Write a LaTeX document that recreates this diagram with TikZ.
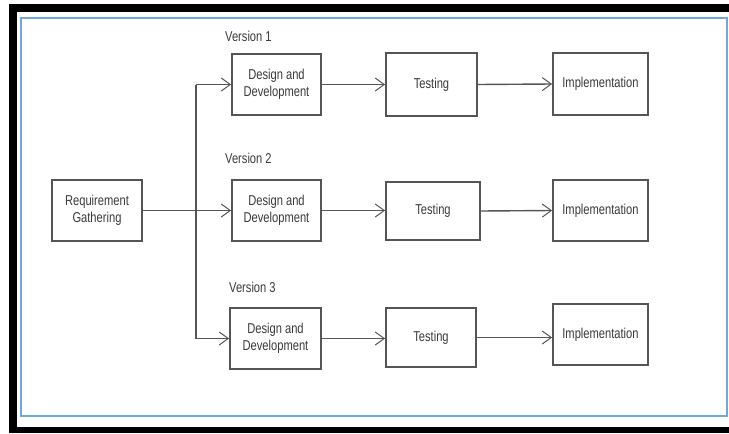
\documentclass[tikz,border=0pt]{standalone}
\usepackage{fontspec}
\setmainfont{Liberation Sans}[FakeStretch=0.78]
\usetikzlibrary{arrows.meta}
\definecolor{boxline}{HTML}{555555}
\definecolor{txt}{HTML}{3A3A3A}
\definecolor{frameblue}{HTML}{6FA8DC}
\tikzset{
  box/.style={draw=boxline, line width=1.8pt, fill=white, text=txt, align=center,
    font=\fontsize{14.3}{17.5}\selectfont, inner sep=0pt},
  conn/.style={draw=boxline, line width=1.4pt},
  arr/.style={conn, -{Straight Barb[length=9pt,width=13pt,line width=1pt]}},
  ver/.style={text=txt, font=\fontsize{14.3}{17}\selectfont, anchor=west, inner sep=0pt}
}
\begin{document}
\begin{tikzpicture}[x=1pt,y=-1pt]
\useasboundingbox (0,0) rectangle (729,434);
% outer black frame
\fill[black] (9,4) rectangle (17,433);
\fill[black] (9,4) rectangle (729,12);
\fill[black] (9,427) rectangle (729,433);
% inner blue frame
\draw[frameblue, line width=2pt] (21,18) rectangle (727,416);

% nodes
\node[box, minimum width=90pt, minimum height=61pt] (req) at (97,210.5) {Requirement\\Gathering};

\node[box, minimum width=89pt, minimum height=61pt] (d1) at (276.5,84.5) {Design and\\Development};
\node[box, minimum width=91pt, minimum height=63pt] (t1) at (431.5,84.5) {Testing};
\node[box, minimum width=95pt, minimum height=62pt] (i1) at (600.5,84) {Implementation};

\node[box, minimum width=89pt, minimum height=61pt] (d2) at (276.5,210.5) {Design and\\Development};
\node[box, minimum width=94pt, minimum height=58pt] (t2) at (433,211) {Testing};
\node[box, minimum width=95pt, minimum height=61pt] (i2) at (600.5,210.5) {Implementation};

\node[box, minimum width=91pt, minimum height=61pt] (d3) at (275.5,338.5) {Design and\\Development};
\node[box, minimum width=90pt, minimum height=59pt] (t3) at (431,337.5) {Testing};
\node[box, minimum width=95pt, minimum height=61pt] (i3) at (600.5,334.5) {Implementation};

% version labels
\node[ver] (v1) at (225,36) {Version 1};
\node[ver] (v2) at (225,158) {Version 2};
\node[ver] (v3) at (229,287) {Version 3};

% branching connectors
\coordinate (vx) at (196,0);
\coordinate (top) at (vx |- d1.west);
\coordinate (bot) at (vx |- d3.west);
\draw[conn] (top) -- (bot);
\draw[arr] (req.east) -- (d2.west);
\draw[arr] (top) -- (d1.west);
\draw[arr] (bot) -- (d3.west);

% row connectors
\draw[arr] (d1.east) -- (t1.west);
\draw[arr] (t1.east) -- (i1.west);
\draw[arr] (d2.east) -- (t2.west |- d2.east);
\draw[arr] (t2.east) -- (i2.west);
\draw[arr] (d3.east) -- (t3.west |- d3.east);
\draw[arr] (t3.east) -- (i3.west |- t3.east);
\end{tikzpicture}
\end{document}
